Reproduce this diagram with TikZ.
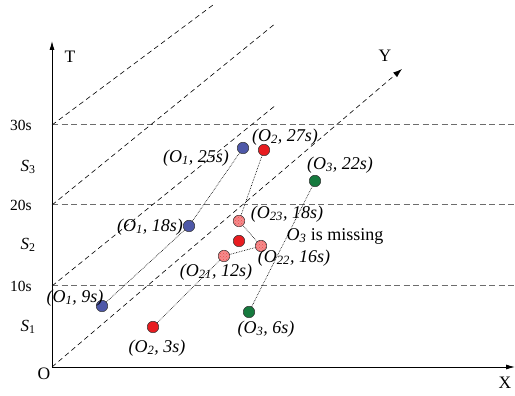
\documentclass[tikz,border=0pt]{standalone}
\usepackage{fontspec}
\setmainfont{Liberation Serif}
\usetikzlibrary{arrows.meta,patterns}
\definecolor{dotblue}{RGB}{78,88,168}
\definecolor{dotred}{RGB}{232,28,32}
\definecolor{dotgreen}{RGB}{22,122,62}
\definecolor{dotpink}{RGB}{244,140,140}
\tikzset{
  dotnode/.style={circle,draw=black!80,line width=.5pt,minimum size=11.5pt,inner sep=0pt},
  bluedot/.style={dotnode,fill=dotblue},
  reddot/.style={dotnode,fill=dotred},
  greendot/.style={dotnode,fill=dotgreen},
  pinkdot/.style={dotnode,fill=dotpink,postaction={pattern=crosshatch dots,pattern color=dotred!80}},
  trail/.style={densely dotted,line width=.65pt},
  slotline/.style={gray!85!black,line width=1pt,dash pattern=on 6pt off 3.5pt},
  lane/.style={black,line width=.6pt,dash pattern=on 5pt off 3.5pt},
  txt/.style={font=\fontsize{18}{20}\selectfont,inner sep=1pt},
  axtxt/.style={font=\fontsize{17.5}{19}\selectfont,inner sep=1pt},
  ticktxt/.style={font=\fontsize{15.5}{17}\selectfont,inner sep=1pt}
}
\begin{document}
\begin{tikzpicture}[x=1pt,y=1pt]
\useasboundingbox (0,0) rectangle (515,396);
% axes
\coordinate (O) at (52,29);
\coordinate (Ttop) at (52,355);
\coordinate (Xend) at (515,29);
\coordinate (Ytip) at (402,327);
\draw[line width=.8pt,-{Latex[length=9pt,width=5pt]}] (O)--(Ttop);
\draw[line width=.8pt,-{Latex[length=9pt,width=5pt]}] (O)--(Xend);
\draw[lane,-{Latex[length=9pt,width=6pt]}] (O)--(Ytip);
\node[axtxt] (lT) at (70,339) {T};
\node[axtxt] (lY) at (385,340) {Y};
\node[axtxt] (lX) at (505,13) {X};
\node[axtxt] (lO) at (44,22) {O};
% time slots
\foreach \t/\y in {10s/110,20s/191,30s/271}{
  \draw[slotline] (52,\y)--(515,\y);
  \node[ticktxt] at (21,\y) {\t};}
\foreach \s/\y in {1/69,2/151,3/229}{\node[ticktxt,font=\fontsize{17}{19}\selectfont] at (28,\y) {\textit{S}\textsubscript{\s}};}
\draw[lane] (52,110)--(276,291);
\draw[lane] (52,191)--(276,373);
\draw[lane] (52,271)--(213,391);
% objects
\node[bluedot] (a9) at (102,90) {};
\node[bluedot] (a18) at (189,170) {};
\node[bluedot] (a25) at (243,248) {};
\node[reddot] (b3) at (153,69) {};
\node[pinkdot] (b21) at (224,140) {};
\node[pinkdot] (b22) at (261,150) {};
\node[pinkdot] (b23) at (239,175) {};
\node[reddot] (bx) at (239,155) {};
\node[reddot] (b27) at (264,246) {};
\node[greendot] (c6) at (249,84) {};
\node[greendot] (c22) at (315,215) {};
\draw[trail] (a9)--(a18)--(a25);
\draw[trail] (b3)--(b21)--(b22)--(b23)--(b27);
\draw[trail] (c6)--(c22);
% labels
\node[txt] (la9) at (75,98) {\itshape (O\textsubscript{1}, 9s)};
\node[txt] (lb3) at (157,48) {\itshape (O\textsubscript{2}, 3s)};
\node[txt] (la18) at (150,169) {\itshape (O\textsubscript{1}, 18s)};
\node[txt] (lb21) at (216,124) {\itshape (O\textsubscript{21}, 12s)};
\node[txt] (la25) at (196,238) {\itshape (O\textsubscript{1}, 25s)};
\node[txt] (lb27) at (285,259) {\itshape (O\textsubscript{2}, 27s)};
\node[txt] (lc22) at (340,231) {\itshape (O\textsubscript{3}, 22s)};
\node[txt] (lb23) at (287,182) {\itshape (O\textsubscript{23}, 18s)};
\node[txt] (lmiss) at (335,160) {\textit{O}\textsubscript{\itshape 3} is missing};
\node[txt] (lb22) at (294,138) {\itshape (O\textsubscript{22}, 16s)};
\node[txt] (lc6) at (266,67) {\itshape (O\textsubscript{3}, 6s)};
\end{tikzpicture}
\end{document}
